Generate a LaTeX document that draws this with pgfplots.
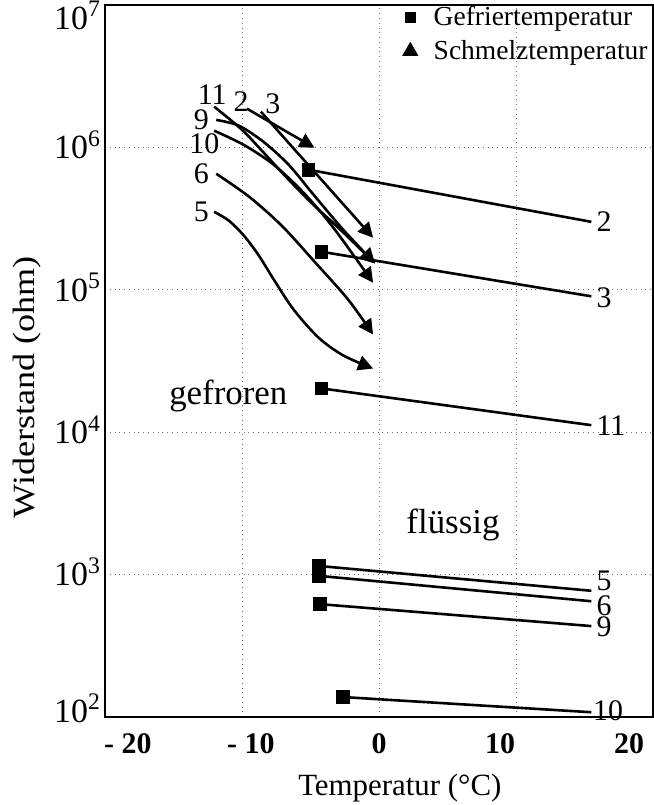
\documentclass[border=0pt]{standalone}
\usepackage{fontspec}
\setmainfont{Liberation Serif}
\usepackage{pgfplots}
\pgfplotsset{compat=1.18}
\usetikzlibrary{arrows.meta,calc}

\newcommand{\fs}[1]{\fontsize{#1}{#1}\selectfont}
% tick label: 10^n, shifted vertically by #1
\newcommand{\ylab}[2]{\raisebox{#1}[0pt][0pt]{10\textsuperscript{#2}}}

\begin{document}
\begin{tikzpicture}
\begin{axis}[
  name=ax,
  scale only axis,
  width=274bp, height=356bp,
  xmin=-20, xmax=20,
  ymode=log, ymin=1e2, ymax=1e7,
  xtick={-10,0,10},
  xticklabels={,,},
  extra x ticks={-18.33,-9.35,0,8.84,18.26},
  extra x tick labels={{- 20},{- 10},0,10,20},
  extra x tick style={grid=none, xticklabel style={font=\fs{15}\bfseries, yshift=-5bp}},
  ytick={1e2,1e3,1e4,1e5,1e6,1e7},
  yticklabels={\ylab{-2.7bp}{2},\ylab{-5.7bp}{3},\ylab{-5.7bp}{4},\ylab{-5.7bp}{5},\ylab{-5.7bp}{6},\ylab{-12.2bp}{7}},
  yminorticks=false,
  major tick length=0pt,
  grid=major,
  grid style={dotted, black!55, line width=0.5bp},
  yticklabel style={font=\fs{17}, xshift=1.5bp},
  axis line style={line width=1bp},
  clip=false,
  legend style={draw=none, fill=none, at={(rel axis cs:0.998,1.005)}, anchor=north east,
    font=\fs{13.8}, inner sep=0pt, row sep=2bp, column sep=6bp},
  legend cell align=left,
]
\addlegendimage{only marks, mark=square*, mark size=2.5bp}
\addlegendentry{Gefriertemperatur}
\addlegendimage{only marks, mark=triangle*, mark size=4.3bp}
\addlegendentry{Schmelztemperatur}

% Gefriertemperatur -> 15.5 C
\pgfplotsset{gl/.style={black, line width=1.3bp, mark=square*, mark size=2.8bp, mark indices={1}, forget plot}}
\addplot[gl] coordinates {(-5.14,6.97e5) (15.5,3.0e5)};   % 2
\addplot[gl] coordinates {(-4.20,1.85e5) (15.5,9.0e4)};   % 3
\addplot[gl] coordinates {(-4.20,2.03e4) (15.5,1.12e4)};  % 11
\addplot[gl] coordinates {(-4.40,1150) (15.5,770)};       % 5
\addplot[gl] coordinates {(-4.40,980) (15.5,650)};        % 6
\addplot[gl] coordinates {(-4.30,620) (15.5,435)};        % 9
\addplot[gl] coordinates {(-2.60,138) (15.5,108)};        % 10

% Schmelzkurven
\pgfplotsset{ml/.style={black, line width=1.3bp, smooth, -{Triangle[length=7.5bp,width=7.5bp]}, forget plot}}
\addplot[ml] coordinates {(-9.64,1.87e6) (-4.71,9.93e5)};  % 2
\addplot[ml] coordinates {(-8.62,1.78e6) (-0.43,2.32e5)};  % 3
\addplot[ml] coordinates {(-12.03,1.93e6) (-10.0,1.33e6) (-8.41,9.16e5) (-6.59,5.93e5) (-4.78,3.95e5) (-2.97,2.73e5) (-0.29,1.53e5)}; % 11
\addplot[ml] coordinates {(-11.88,1.56e6) (-10.22,1.42e6) (-8.41,1.09e6) (-6.59,7.55e5) (-4.78,4.66e5) (-2.61,2.64e5) (-0.29,1.53e5)}; % 9
\addplot[ml] coordinates {(-12.03,1.31e6) (-9.86,1.04e6) (-7.68,7.55e5) (-5.51,4.81e5) (-3.33,2.73e5) (-0.43,1.12e5)}; % 10
\addplot[ml] coordinates {(-11.88,6.53e5) (-9.49,4.51e5) (-7.10,2.82e5) (-4.64,1.55e5) (-2.25,8.53e4) (-0.43,4.85e4)}; % 6
\addplot[ml] coordinates {(-12.03,3.53e5) (-10.94,3.05e5) (-9.86,2.40e5) (-8.77,1.74e5) (-7.68,1.18e5) (-6.23,7.26e4) (-4.42,4.62e4) (-2.61,3.46e4) (-0.43,2.80e4)}; % 5

% Kurvennummern
\begin{scope}[every node/.style={font=\fs{15}, inner sep=0pt}]
\node at (axis cs:-12.17,2.34e6) {11};
\node at (axis cs:-10.07,2.09e6) {2};
\node at (axis cs:-7.75,2.02e6) {3};
\node at (axis cs:-12.97,1.56e6) {9};
\node at (axis cs:-12.75,1.07e6) {10};
\node at (axis cs:-12.97,6.5e5) {6};
\node at (axis cs:-12.97,3.5e5) {5};
\node[anchor=west] at (axis cs:15.85,3.0e5) {2};
\node[anchor=west] at (axis cs:15.85,8.8e4) {3};
\node[anchor=west] at (axis cs:15.85,1.12e4) {11};
\node[anchor=west] at (axis cs:15.85,900) {5};
\node[anchor=west] at (axis cs:15.85,600) {6};
\node[anchor=west] at (axis cs:15.85,428) {9};
\node[anchor=west] at (axis cs:15.6,110) {10};
\end{scope}
\node[font=\fs{17.5}, anchor=base] at (axis cs:-11.0,1.57e4) {gefroren};
\node[font=\fs{17.5}, anchor=base] at (axis cs:5.4,1.95e3) {flüssig};
\end{axis}
\node[font=\fs{15.5}] at ($(ax.south west)!0.538!(ax.south east)+(0,-35.5bp)$) {Temperatur (°C)};
\node[font=\fs{15.5}, rotate=90, transform shape, xscale=1.17] at ($(ax.south west)!0.463!(ax.north west)+(-39bp,0)$) {Widerstand (ohm)};
\pgfresetboundingbox
\path ($(ax.south west)+(-52.5bp,-44bp)$) rectangle ($(ax.north east)+(0.5bp,2.5bp)$);
\end{tikzpicture}
\end{document}
